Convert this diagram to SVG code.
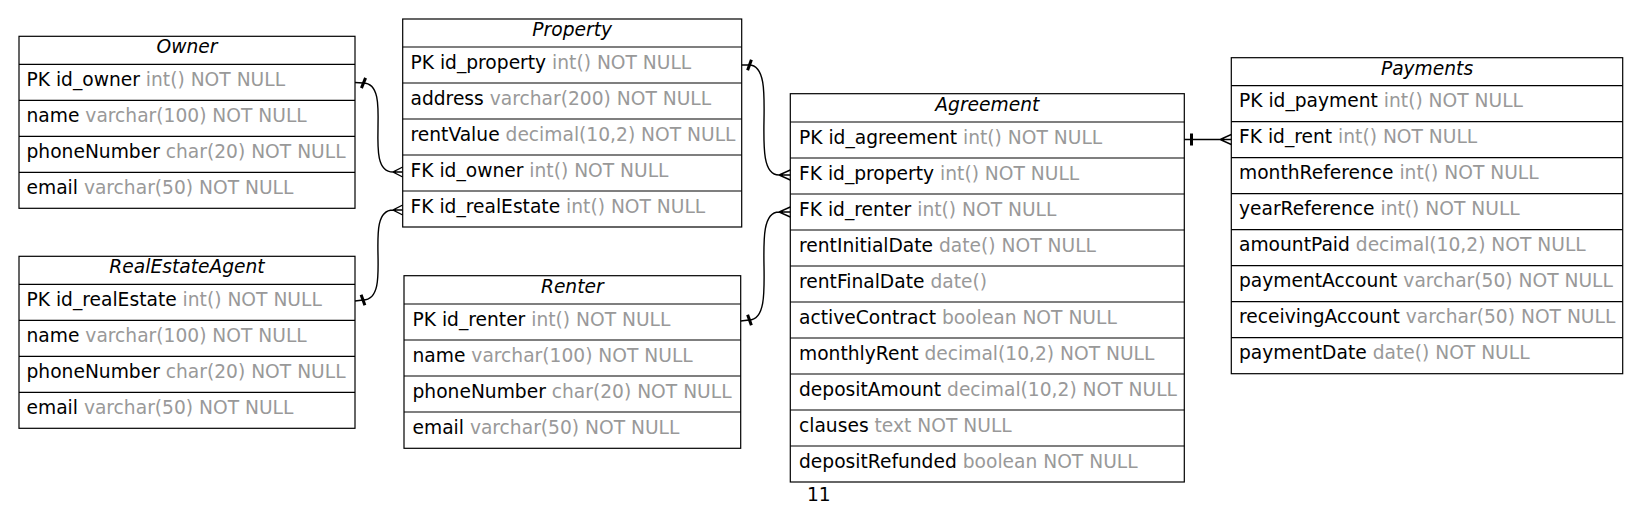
<svg xmlns="http://www.w3.org/2000/svg" width="1641" height="531" viewBox="0 0 1641 531">
<style>
text{font-family:"DejaVu Sans","Liberation Sans",sans-serif;font-size:18.67px;fill:#000}
.h{font-style:italic;text-anchor:middle}
.g{fill:#999999}
.box{fill:#fff;stroke:#000;stroke-width:1.2}
.ln{stroke:#000;stroke-width:1.2}
.e{fill:none;stroke:#000;stroke-width:1.4}
.tee{fill:#000}
</style>
<rect width="1641" height="531" fill="#fff"/>
<g id="Owner">
<rect class="box" x="19" y="36.3" width="336" height="172"/>
<path class="ln" d="M19,64.3H355M19,100.3H355M19,136.3H355M19,172.3H355"/>
<text class="h" x="187" y="53.3">Owner</text>
<text x="26.5" y="86">PK id_owner<tspan class="g"> int() NOT NULL</tspan></text>
<text x="26.5" y="122">name<tspan class="g"> varchar(100) NOT NULL</tspan></text>
<text x="26.5" y="158">phoneNumber<tspan class="g"> char(20) NOT NULL</tspan></text>
<text x="26.5" y="194">email<tspan class="g"> varchar(50) NOT NULL</tspan></text>
</g>
<g id="RealEstateAgent">
<rect class="box" x="19" y="256.3" width="336" height="172"/>
<path class="ln" d="M19,284.3H355M19,320.3H355M19,356.3H355M19,392.3H355"/>
<text class="h" x="187" y="273.3">RealEstateAgent</text>
<text x="26.5" y="306">PK id_realEstate<tspan class="g"> int() NOT NULL</tspan></text>
<text x="26.5" y="342">name<tspan class="g"> varchar(100) NOT NULL</tspan></text>
<text x="26.5" y="378">phoneNumber<tspan class="g"> char(20) NOT NULL</tspan></text>
<text x="26.5" y="414">email<tspan class="g"> varchar(50) NOT NULL</tspan></text>
</g>
<g id="Property">
<rect class="box" x="402.7" y="19" width="339" height="208"/>
<path class="ln" d="M402.7,47H741.7M402.7,83H741.7M402.7,119H741.7M402.7,155H741.7M402.7,191H741.7"/>
<text class="h" x="572.2" y="36">Property</text>
<text x="410.5" y="68.7">PK id_property<tspan class="g"> int() NOT NULL</tspan></text>
<text x="410.5" y="104.7">address<tspan class="g"> varchar(200) NOT NULL</tspan></text>
<text x="410.5" y="140.7">rentValue<tspan class="g"> decimal(10,2) NOT NULL</tspan></text>
<text x="410.5" y="176.7">FK id_owner<tspan class="g"> int() NOT NULL</tspan></text>
<text x="410.5" y="212.7">FK id_realEstate<tspan class="g"> int() NOT NULL</tspan></text>
</g>
<g id="Renter">
<rect class="box" x="404" y="275.7" width="336.7" height="172.6"/>
<path class="ln" d="M404,304H740.7M404,340H740.7M404,376H740.7M404,412H740.7"/>
<text class="h" x="572.3" y="292.7">Renter</text>
<text x="412.5" y="325.7">PK id_renter<tspan class="g"> int() NOT NULL</tspan></text>
<text x="412.5" y="361.7">name<tspan class="g"> varchar(100) NOT NULL</tspan></text>
<text x="412.5" y="397.7">phoneNumber<tspan class="g"> char(20) NOT NULL</tspan></text>
<text x="412.5" y="433.7">email<tspan class="g"> varchar(50) NOT NULL</tspan></text>
</g>
<g id="Agreement">
<rect class="box" x="790.3" y="93.7" width="394" height="388.3"/>
<path class="ln" d="M790.3,122H1184.3M790.3,158H1184.3M790.3,194H1184.3M790.3,230H1184.3M790.3,266H1184.3M790.3,302H1184.3M790.3,338H1184.3M790.3,374H1184.3M790.3,410H1184.3M790.3,446H1184.3"/>
<text class="h" x="987.3" y="110.7">Agreement</text>
<text x="799" y="143.7">PK id_agreement<tspan class="g"> int() NOT NULL</tspan></text>
<text x="799" y="179.7">FK id_property<tspan class="g"> int() NOT NULL</tspan></text>
<text x="799" y="215.7">FK id_renter<tspan class="g"> int() NOT NULL</tspan></text>
<text x="799" y="251.7">rentInitialDate<tspan class="g"> date() NOT NULL</tspan></text>
<text x="799" y="287.7">rentFinalDate<tspan class="g"> date()</tspan></text>
<text x="799" y="323.7">activeContract<tspan class="g"> boolean NOT NULL</tspan></text>
<text x="799" y="359.7">monthlyRent<tspan class="g"> decimal(10,2) NOT NULL</tspan></text>
<text x="799" y="395.7">depositAmount<tspan class="g"> decimal(10,2) NOT NULL</tspan></text>
<text x="799" y="431.7">clauses<tspan class="g"> text NOT NULL</tspan></text>
<text x="799" y="467.7">depositRefunded<tspan class="g"> boolean NOT NULL</tspan></text>
</g>
<g id="Payments">
<rect class="box" x="1231.3" y="57.7" width="391.4" height="316"/>
<path class="ln" d="M1231.3,85.7H1622.7M1231.3,121.7H1622.7M1231.3,157.7H1622.7M1231.3,193.7H1622.7M1231.3,229.7H1622.7M1231.3,265.7H1622.7M1231.3,301.7H1622.7M1231.3,337.7H1622.7"/>
<text class="h" x="1427" y="74.7">Payments</text>
<text x="1239" y="107.4">PK id_payment<tspan class="g"> int() NOT NULL</tspan></text>
<text x="1239" y="143.4">FK id_rent<tspan class="g"> int() NOT NULL</tspan></text>
<text x="1239" y="179.4">monthReference<tspan class="g"> int() NOT NULL</tspan></text>
<text x="1239" y="215.4">yearReference<tspan class="g"> int() NOT NULL</tspan></text>
<text x="1239" y="251.4">amountPaid<tspan class="g"> decimal(10,2) NOT NULL</tspan></text>
<text x="1239" y="287.4">paymentAccount<tspan class="g"> varchar(50) NOT NULL</tspan></text>
<text x="1239" y="323.4">receivingAccount<tspan class="g"> varchar(50) NOT NULL</tspan></text>
<text x="1239" y="359.4">paymentDate<tspan class="g"> date() NOT NULL</tspan></text>
</g>
<g id="connectors">
<path class="e" d="M355,82.5L363,83C395,83 361,172 393,172M402.7,167L393,172L402.7,177M393,172H402.7"/>
<rect class="tee" x="362" y="77.5" width="3" height="11" transform="rotate(22 363.5 83)"/>
<path class="e" d="M355,301L363,300C395,300 361,210 393,210M402.7,205L393,210L402.7,215M393,210H402.7"/>
<rect class="tee" x="361.5" y="294.5" width="3" height="11" transform="rotate(-20 363 300)"/>
<path class="e" d="M741.7,65L749,65C781,65 747,175 779,175M790.3,170L779,175L790.3,180M779,175H790.3"/>
<rect class="tee" x="748" y="59.5" width="3" height="11" transform="rotate(20 749.5 65)"/>
<path class="e" d="M740.7,321L749,320C781,320 747,212 779,212M790.3,207L779,212L790.3,217M779,212H790.3"/>
<rect class="tee" x="748" y="314.5" width="3" height="11" transform="rotate(-20 749.5 320)"/>
<path class="e" d="M1184.3,139.5H1231.3M1231.3,134.5L1220,139.5L1231.3,144.5"/>
<rect class="tee" x="1190" y="133.5" width="3" height="12"/>
</g>
<text x="807" y="501">11</text>
</svg>
